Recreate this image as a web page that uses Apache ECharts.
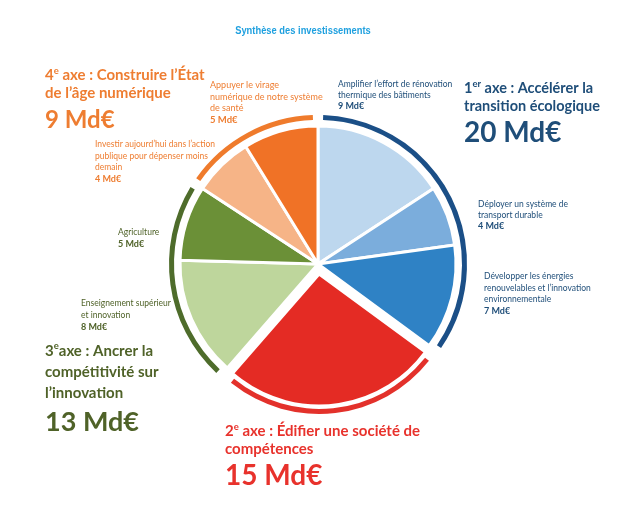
<!DOCTYPE html>
<html>
<head>
<meta charset="utf-8">
<script src="https://cdn.jsdelivr.net/npm/echarts@6/dist/echarts.min.js"></script>
<style>
html, body { margin: 0; padding: 0; background: #fff; }
#chart { width: 630px; height: 505px; }
</style>
</head>
<body>
<div id="chart"></div>
<script>
// données
const chartTitle = 'Synthèse des investissements';
const sliceNames = [
    'Amplifier l\u2019effort de rénovation\nthermique des bâtiments',
    'Déployer un système de\ntransport durable',
    'Développer les énergies\nrenouvelables et l\u2019innovation\nenvironnementale',
    'Édifier une société de compétences',
    'Enseignement supérieur\net innovation',
    'Agriculture',
    'Investir aujourd\u2019hui dans l\u2019action\npublique pour dépenser moins\ndemain',
    'Appuyer le virage\nnumérique de notre système\nde santé'
];
const sliceValues = [9, 4, 7, 15, 8, 5, 4, 5];
const sliceAxis = [0, 0, 0, 1, 2, 2, 3, 3];
const axisRank = ['1', '2', '3', '4'];
const axisSup = ['er', 'e', 'e', 'e'];
const axisTitles = [
    ' axe : Accélérer la\ntransition écologique',
    ' axe : Édifier une société de\ncompétences',
    'axe : Ancrer la\ncompétitivité sur\nl\u2019innovation',
    ' axe : Construire l\u2019État\nde l\u2019âge numérique'
];
const axisTotals = [20, 15, 13, 9];
const unit = ' Md€';

// styles
const sliceColors = ['#BDD7EE', '#7BADDC', '#2F82C5', '#E42B24', '#BED69C', '#6B9037', '#F6B487', '#F07226'];
const ringColors = ['#1B4F87', '#E3312B', '#4E6C2B', '#EF7B2C'];
const textColors = ['#1F4E79', '#E8322C', '#4F6228', '#EE7D31'];
const explodedAxis = 1;
const font = 'Lato';

// position des textes (x, y haut, interligne, tailles)
const headPos = [
    {x: 464, y: 79, lh: 18, fs: 14.5, big: 28},
    {x: 225, y: 422, lh: 18, fs: 15, big: 28},
    {x: 45, y: 341, lh: 21, fs: 15, big: 27},
    {x: 45, y: 66, lh: 18, fs: 15, big: 24}
];
const labelPos = [
    {x: 338, y: 79, lh: 11},
    {x: 478, y: 199, lh: 11},
    {x: 484, y: 271, lh: 11.5},
    null,
    {x: 81, y: 298, lh: 11.5},
    {x: 118, y: 226, lh: 12},
    {x: 95, y: 139, lh: 11.5},
    {x: 210, y: 79, lh: 11.8}
];
const labelSize = [8.5, 8.5, 8.5, 0, 8.5, 8.5, 8.5, 9];

let myChart = echarts.init(document.getElementById('chart'));

const center = [318, 264];

function sliceData(visible) {
    return sliceValues.map((v, i) => {
        let exploded = sliceAxis[i] === explodedAxis;
        let show = visible === 'main' ? !exploded : exploded;
        return {
            value: v,
            name: sliceNames[i],
            selected: exploded,
            itemStyle: {color: sliceColors[i], opacity: show ? 1 : 0}
        };
    });
}

function ringData(visible) {
    return axisTotals.map((v, i) => {
        let exploded = i === explodedAxis;
        let show = visible === 'main' ? !exploded : exploded;
        return {
            value: v,
            name: 'axe ' + axisRank[i],
            selected: exploded,
            itemStyle: {color: ringColors[i], opacity: show ? 1 : 0}
        };
    });
}

const graphics = [];
// titre
graphics.push({
    type: 'text', x: 303, y: 31, scaleX: 0.85,
    style: {
        text: chartTitle, fill: '#1FA0DF', fontSize: 11, fontWeight: 'bold',
        fontFamily: '"Liberation Sans", Arial, sans-serif',
        align: 'center', verticalAlign: 'middle'
    }
});
// titres des axes
axisTitles.forEach((t, i) => {
    let lines = t.split('\n');
    let s = '{n|' + axisRank[i] + '}{s|' + axisSup[i] + '}{h|' + lines[0] + '}';
    for (let k = 1; k < lines.length; k++) s += '\n{h|' + lines[k] + '}';
    s += '\n{b|' + axisTotals[i] + unit + '}';
    let p = headPos[i];
    graphics.push({
        type: 'text', x: p.x, y: p.y,
        style: {
            text: s, fill: textColors[i], fontFamily: font, fontWeight: 'bold',
            align: 'left', verticalAlign: 'top',
            rich: {
                n: {fontSize: p.fs, fontWeight: 'bold', fontFamily: font, fill: textColors[i], lineHeight: p.lh},
                s: {fontSize: 9.5, fontWeight: 'bold', fontFamily: font, fill: textColors[i], lineHeight: 11, verticalAlign: 'top'},
                h: {fontSize: p.fs, fontWeight: 'bold', fontFamily: font, fill: textColors[i], lineHeight: p.lh},
                b: {fontSize: p.big, fontWeight: 'bold', fontFamily: font, fill: textColors[i], lineHeight: 36}
            }
        }
    });
});
// étiquettes des parts
sliceNames.forEach((name, i) => {
    let p = labelPos[i];
    if (!p) return;
    let c = textColors[sliceAxis[i]];
    graphics.push({
        type: 'text', x: p.x, y: p.y,
        style: {
            text: name + '\n{v|' + sliceValues[i] + unit + '}',
            fill: c, fontFamily: font, fontSize: labelSize[i], lineHeight: p.lh,
            align: 'left', verticalAlign: 'top',
            rich: {
                v: {fontSize: labelSize[i] + 0.5, fontWeight: 'bold', fontFamily: font, fill: c, lineHeight: p.lh}
            }
        }
    });
});

myChart.setOption({
    animation: false,
    backgroundColor: '#fff',
    series: [
        {
            type: 'pie', center: center, radius: [0, 138], startAngle: 90, clockwise: true,
            label: {show: false}, labelLine: {show: false}, silent: true,
            itemStyle: {borderColor: '#fff', borderWidth: 3},
            data: sliceData('main')
        },
        {
            type: 'pie', center: center, radius: [0, 132], startAngle: 90, clockwise: true,
            selectedMode: 'single', selectedOffset: 10,
            label: {show: false}, labelLine: {show: false},
            itemStyle: {borderColor: '#fff', borderWidth: 3},
            emphasis: {disabled: true},
            data: sliceData('exploded')
        },
        {
            type: 'pie', center: center, radius: [144, 149], startAngle: 90, clockwise: true,
            padAngle: 4, label: {show: false}, labelLine: {show: false}, silent: true,
            data: ringData('main')
        },
        {
            type: 'pie', center: center, radius: [135, 140], startAngle: 90, clockwise: true,
            padAngle: 4, selectedMode: 'single', selectedOffset: 10,
            label: {show: false}, labelLine: {show: false},
            emphasis: {disabled: true},
            data: ringData('exploded')
        }
    ],
    graphic: graphics
});
</script>
</body>
</html>
